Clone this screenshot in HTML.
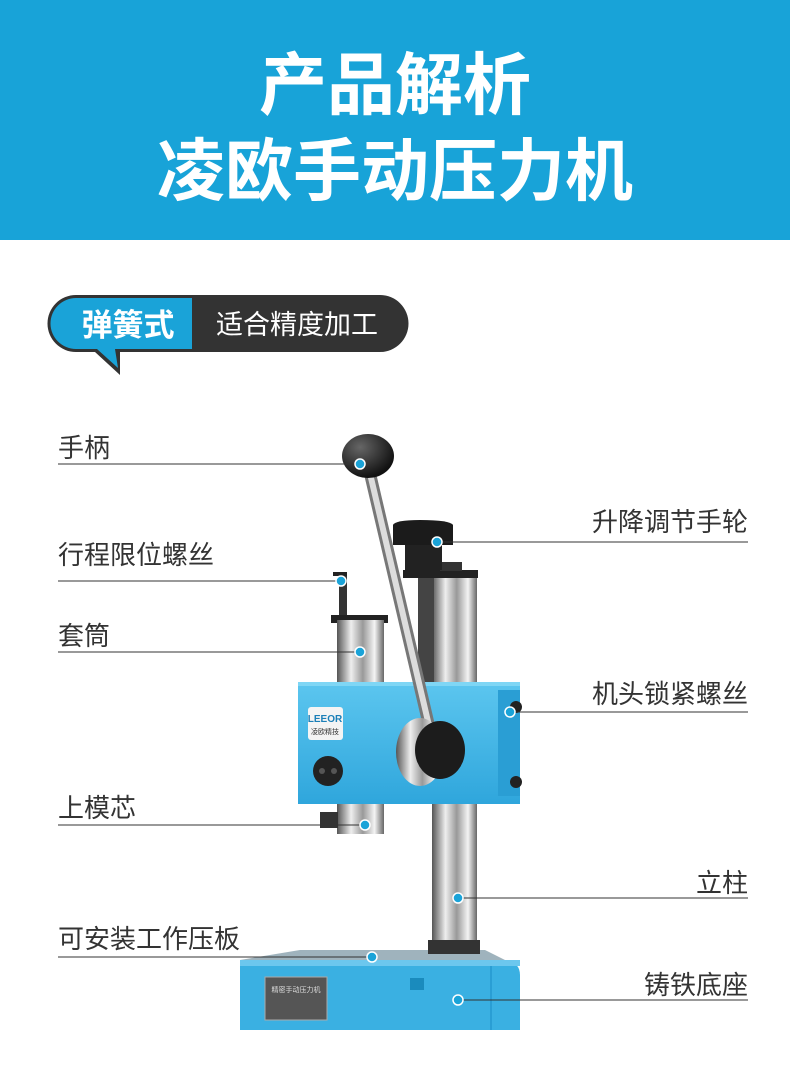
<!DOCTYPE html>
<html><head><meta charset="utf-8"><style>
body{margin:0;width:790px;height:1089px;background:#fff;overflow:hidden}
svg{display:block}
text{font-family:"Liberation Sans","Noto Sans CJK SC",sans-serif}
</style></head><body>
<svg width="790" height="1089" viewBox="0 0 790 1089">
<defs>
<linearGradient id="chrome" x1="0" x2="1" y1="0" y2="0">
<stop offset="0" stop-color="#555"/><stop offset="0.3" stop-color="#eee"/><stop offset="0.55" stop-color="#999"/><stop offset="0.8" stop-color="#f4f4f4"/><stop offset="1" stop-color="#666"/>
</linearGradient>
<linearGradient id="blueg" x1="0" x2="0" y1="0" y2="1">
<stop offset="0" stop-color="#5cc6ef"/><stop offset="1" stop-color="#2fa6dc"/>
</linearGradient>
<radialGradient id="ball" cx="0.35" cy="0.3" r="0.7"><stop offset="0" stop-color="#666"/><stop offset="1" stop-color="#111"/></radialGradient>
</defs>
<rect x="0" y="0" width="790" height="240" fill="#18a3d8"/>
<text x="395" y="109" font-size="68" font-weight="bold" fill="#fff" text-anchor="middle">产品解析</text>
<text x="395" y="195" font-size="68" font-weight="bold" fill="#fff" text-anchor="middle">凌欧手动压力机</text>

<path d="M76 295 H380 A28 28 0 0 1 380 352 H120 L120 375 L95 352 H76 A28 28 0 0 1 76 295 Z" fill="#333"/>
<path d="M76 298 H192 V349 H115 L118 368 L97 349 H76 A25.5 25.5 0 0 1 76 298 Z" fill="#1aa3d8"/>
<text x="128" y="336" font-size="31" font-weight="bold" fill="#fff" text-anchor="middle">弹簧式</text>
<text x="297" y="334" font-size="27" fill="#fff" text-anchor="middle">适合精度加工</text>

<path d="M240 960 H500 Q520 960 520 975 V1030 H240 Z" fill="#3ab0e2"/>
<path d="M300 950 H485 L505 960 H240 Z" fill="#9fb3bd"/>
<rect x="240" y="960" width="280" height="6" fill="#6cc7ee"/>
<rect x="490" y="966" width="2" height="64" fill="#2a9ed4"/>
<rect x="265" y="977" width="62" height="43" fill="#555" stroke="#aaa"/>
<text x="296" y="992" font-size="7" fill="#ddd" text-anchor="middle">精密手动压力机</text>
<rect x="410" y="978" width="14" height="12" fill="#1a8bbd"/>
<rect x="432" y="800" width="45" height="145" fill="url(#chrome)"/>
<rect x="428" y="940" width="52" height="14" fill="#333"/>
<rect x="432" y="574" width="45" height="110" fill="url(#chrome)"/>
<rect x="418" y="574" width="16" height="110" fill="#444"/>
<rect x="403" y="570" width="75" height="8" fill="#222"/>
<rect x="440" y="562" width="22" height="9" fill="#333"/>
<rect x="405" y="538" width="37" height="32" fill="#222"/>
<path d="M393 525 Q395 520 420 520 Q450 520 453 525 V545 H393 Z" fill="#1b1b1b"/>
<rect x="339" y="572" width="8" height="45" fill="#333"/>
<rect x="333" y="572" width="14" height="4" fill="#222"/>
<rect x="331" y="615" width="57" height="8" fill="#222"/>
<rect x="337" y="620" width="47" height="64" fill="url(#chrome)"/>
<rect x="298" y="682" width="222" height="122" fill="url(#blueg)"/>
<rect x="298" y="682" width="222" height="4" fill="#7fd6f5"/>
<rect x="498" y="690" width="22" height="106" fill="#2a9ed4"/>
<rect x="308" y="707" width="35" height="33" rx="3" fill="#f4f4f4"/>
<text x="325" y="722" font-size="10" font-weight="bold" fill="#1a7fb8" text-anchor="middle">LEEOR</text>
<text x="325" y="734" font-size="7" fill="#333" text-anchor="middle">凌欧精技</text>
<circle cx="328" cy="771" r="15" fill="#222"/>
<circle cx="322" cy="771" r="3" fill="#555"/><circle cx="334" cy="771" r="3" fill="#555"/>
<circle cx="516" cy="707" r="6" fill="#222"/><circle cx="516" cy="782" r="6" fill="#222"/>
<rect x="337" y="804" width="47" height="30" fill="url(#chrome)"/>
<rect x="320" y="812" width="18" height="16" fill="#333"/>
<line x1="368" y1="465" x2="430" y2="730" stroke="#777" stroke-width="12"/>
<line x1="368" y1="465" x2="430" y2="730" stroke="#ddd" stroke-width="6"/>
<ellipse cx="420" cy="752" rx="24" ry="34" fill="url(#chrome)"/>
<ellipse cx="440" cy="750" rx="25" ry="29" fill="#1c1c1c"/>
<ellipse cx="368" cy="456" rx="26" ry="22" fill="url(#ball)"/>

<g font-size="26" fill="#333">
<text x="58" y="457">手柄</text>
<text x="58" y="564">行程限位螺丝</text>
<text x="58" y="645">套筒</text>
<text x="58" y="817">上模芯</text>
<text x="58" y="948">可安装工作压板</text>
<text x="748" y="531" text-anchor="end">升降调节手轮</text>
<text x="748" y="703" text-anchor="end">机头锁紧螺丝</text>
<text x="748" y="892" text-anchor="end">立柱</text>
<text x="748" y="994" text-anchor="end">铸铁底座</text>
</g>
<g stroke="#333" stroke-width="1">
<line x1="58" y1="464" x2="360" y2="464"/>
<line x1="58" y1="581" x2="341" y2="581"/>
<line x1="58" y1="652" x2="360" y2="652"/>
<line x1="58" y1="825" x2="365" y2="825"/>
<line x1="58" y1="957" x2="372" y2="957"/>
<line x1="437" y1="542" x2="748" y2="542"/>
<line x1="510" y1="712" x2="748" y2="712"/>
<line x1="458" y1="898" x2="748" y2="898"/>
<line x1="458" y1="1000" x2="748" y2="1000"/>
</g>
<g fill="#1aa3d8" stroke="#fff" stroke-width="1.5">
<circle cx="360" cy="464" r="5"/>
<circle cx="341" cy="581" r="5"/>
<circle cx="360" cy="652" r="5"/>
<circle cx="365" cy="825" r="5"/>
<circle cx="372" cy="957" r="5"/>
<circle cx="437" cy="542" r="5"/>
<circle cx="510" cy="712" r="5"/>
<circle cx="458" cy="898" r="5"/>
<circle cx="458" cy="1000" r="5"/>
</g>
</svg>
</body></html>
